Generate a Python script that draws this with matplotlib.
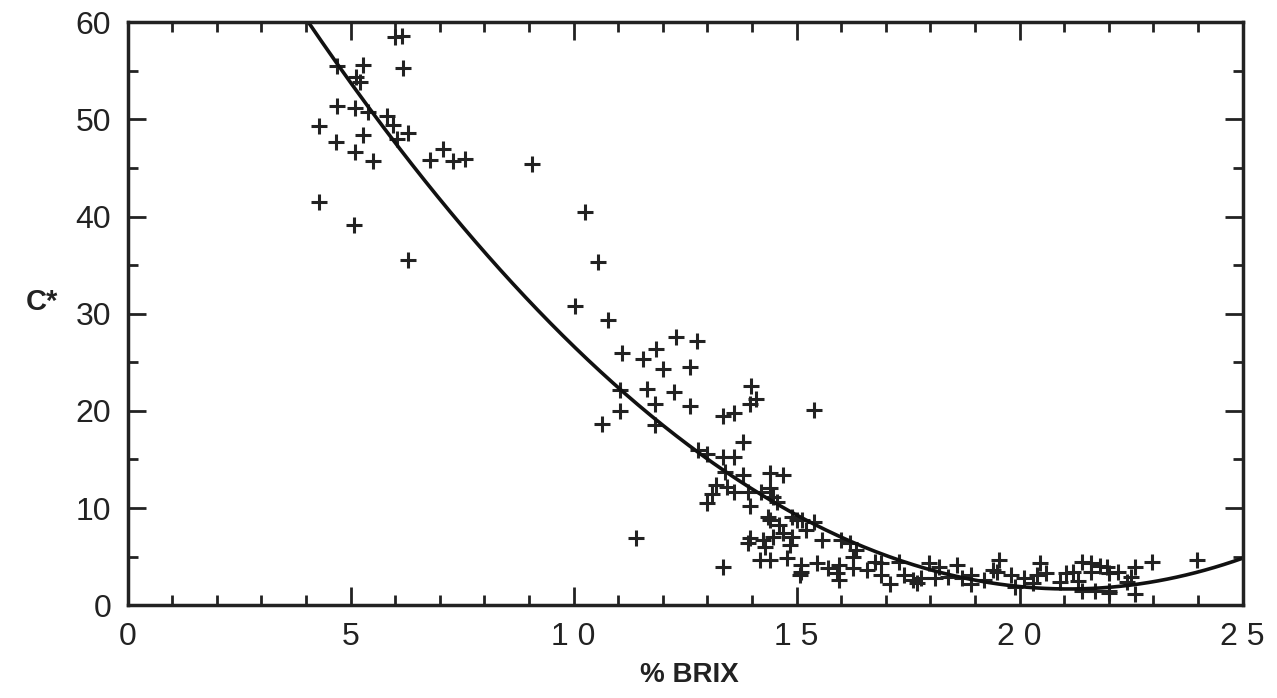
import numpy as np
import matplotlib
matplotlib.use("Agg")
import matplotlib.pyplot as plt

# % Brix and C* values
brix = [
    6.0, 6.15, 4.69, 5.27, 5.11, 5.2, 6.17, 4.69, 5.09, 5.38, 5.81, 5.94, 6.28, 6.05,
    4.3, 4.66, 5.27, 5.09, 5.5, 6.77, 7.06, 7.29, 7.56, 4.28, 5.07, 6.28,
    9.06, 10.25, 10.54, 10.04, 10.76, 11.08, 11.55, 11.84, 12.3, 12.76, 12.0, 12.6,
    11.03, 11.64, 12.24, 11.82, 12.6, 11.03, 10.63, 11.82,
    13.97, 13.95, 14.1, 13.34, 13.6, 13.8, 15.4, 12.78, 13.0, 13.34, 13.6,
    13.4, 13.8, 13.2, 13.43, 13.6, 13.1, 12.98, 14.4, 14.7, 13.9, 14.2, 14.4,
    13.95, 14.57, 14.46, 11.4, 13.34,
    14.4, 14.6, 15.0, 15.4, 14.35, 14.9, 15.13,
    13.95, 14.24, 14.46, 14.7, 14.9, 15.2, 15.56, 16.0, 13.9, 14.3, 14.85,
    14.17, 14.4, 14.78, 15.1, 15.45, 15.7, 15.96, 16.26, 16.26, 16.57, 16.75,
    15.07, 15.96, 16.2, 16.34, 15.1, 15.9,
    16.9, 17.3, 17.98, 18.2, 18.6, 19.4,
    16.9, 17.4, 17.6, 17.8, 18.1, 18.4, 18.7, 18.9, 19.2, 17.1, 17.7, 18.9,
    19.55, 20.45, 21.4, 21.6, 21.95,
    19.5, 19.8, 20.1, 20.4, 20.6, 21.05, 21.2, 21.6, 22.0,
    19.9, 20.3, 20.9, 21.4, 21.7, 22.0,
    22.2, 22.6, 22.5, 22.4, 22.0, 22.6, 22.98, 23.97, 21.8, 21.3,
]
cstar = [
    58.5, 58.6, 55.5, 55.6, 54.4, 53.9, 55.3, 51.4, 51.2, 50.8, 50.4, 49.4, 48.6, 48.0,
    49.3, 47.7, 48.4, 46.7, 45.7, 45.8, 47.0, 45.7, 45.9, 41.5, 39.1, 35.5,
    45.4, 40.5, 35.3, 30.8, 29.4, 26.0, 25.3, 26.4, 27.6, 27.2, 24.3, 24.5,
    22.2, 22.3, 21.9, 20.7, 20.5, 20.0, 18.7, 18.5,
    22.6, 20.7, 21.2, 19.5, 19.8, 16.8, 20.1, 16.0, 15.6, 15.3, 15.3,
    13.7, 13.4, 12.4, 12.2, 11.7, 11.4, 10.5, 13.6, 13.4, 11.7, 11.6, 12.1,
    10.2, 10.6, 11.1, 6.9, 3.9,
    8.8, 8.3, 8.8, 8.6, 9.1, 9.1, 8.8,
    6.9, 6.7, 7.0, 7.4, 7.0, 7.7, 6.7, 6.7, 6.4, 6.0, 6.2,
    4.6, 4.6, 4.9, 4.1, 4.3, 3.8, 4.1, 5.0, 3.8, 3.6, 4.4,
    3.1, 2.6, 6.4, 5.7, 3.4, 3.3,
    4.3, 4.4, 4.3, 3.9, 4.1, 3.6,
    3.1, 3.1, 2.6, 2.8, 2.8, 2.9, 2.8, 3.1, 2.6, 2.2, 2.3, 2.2,
    4.6, 4.3, 4.4, 4.3, 3.9,
    3.4, 3.1, 2.8, 3.1, 3.3, 3.3, 3.4, 3.4, 3.3,
    1.9, 2.3, 2.4, 1.5, 1.5, 1.5,
    3.4, 3.9, 2.9, 2.4, 1.3, 1.2, 4.4, 4.6, 4.0, 2.5,
]

# fitted curve (cubic regression through points)
curve_pts_x = [4, 6, 10, 15, 21, 25]
curve_pts_y = [60, 48.2, 26.5, 9.0, 2.0, 4.7]
coef = np.polyfit(curve_pts_x, curve_pts_y, 3)

plt.rcParams["font.family"] = ["Liberation Sans", "DejaVu Sans"]
fig = plt.figure(figsize=(12.77, 6.98), dpi=100)
ax = fig.add_axes([0.1, 0.133, 0.873, 0.835])

ax.plot(brix, cstar, "+", color="#222222", markersize=11, markeredgewidth=2.2)
xs = np.linspace(4, 25, 300)
ax.plot(xs, np.polyval(coef, xs), color="#111111", linewidth=2.6)

ax.set_xlim(0, 25)
ax.set_ylim(0, 60)
ax.set_xticks(np.arange(0, 26, 5))
ax.set_xticks(np.arange(0, 26, 1), minor=True)
ax.set_yticks(np.arange(0, 61, 10))
ax.set_yticks(np.arange(0, 61, 5), minor=True)
ax.set_xticklabels(["0", "5", "1 0", "1 5", "2 0", "2 5"])
ax.tick_params(which="both", direction="in", top=True, right=True, width=2, colors="#222222")
ax.tick_params(which="major", length=13, labelsize=23, pad=12)
ax.tick_params(which="minor", length=7)
for s in ax.spines.values():
    s.set_linewidth(2.5)
    s.set_color("#222222")

ax.set_xlabel("% BRIX", fontsize=20, fontweight="bold", color="#222222", va="center")
ax.xaxis.set_label_coords(0.504, -0.12)
ax.set_ylabel("C*", fontsize=21, fontweight="bold", rotation=0, va="center",
              ha="center", color="#222222")
ax.yaxis.set_label_coords(-0.077, 0.52)

fig.savefig("out.png", dpi=100)
